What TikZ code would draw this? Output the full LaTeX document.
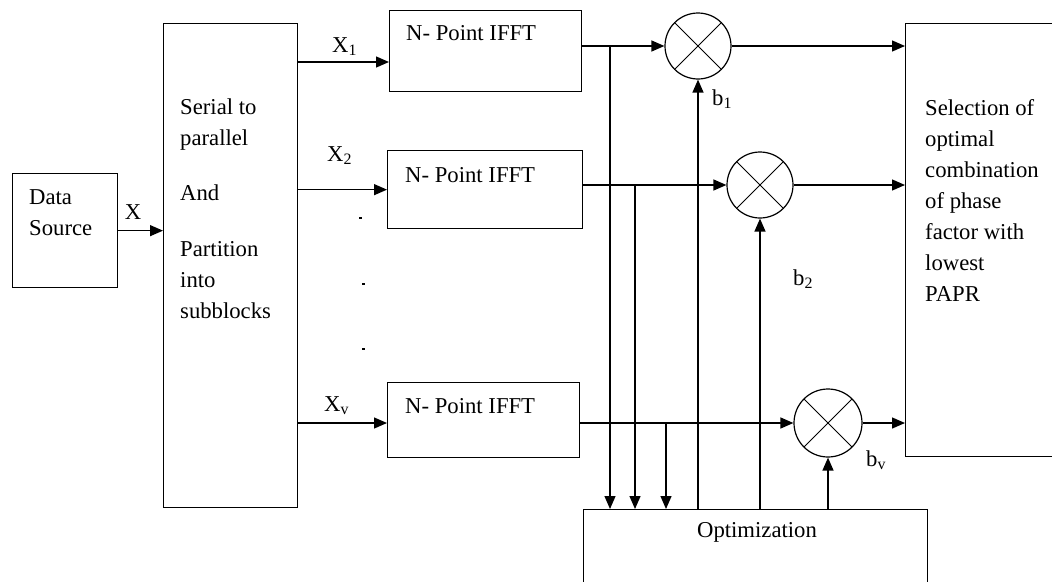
\documentclass[tikz,border=0pt]{standalone}
\usepackage{fontspec}
\setmainfont{Liberation Serif}
\usetikzlibrary{arrows.meta,calc}
\begin{document}
\begin{tikzpicture}[x=1pt,y=-1pt,
  every node/.style={font=\fontsize{22.7}{31}\selectfont, inner sep=0pt},
  box/.style={draw, line width=1.3pt, rectangle, anchor=north west},
  mult/.style={draw, circle, line width=1.2pt, minimum size=66pt,
    path picture={\draw[line width=0.9pt]
      (path picture bounding box.south west) -- (path picture bounding box.north east)
      (path picture bounding box.north west) -- (path picture bounding box.south east);}},
  arr/.style={line width=1.3pt, -{Triangle[length=13pt,width=11pt]}},
  ln/.style={line width=1.3pt},
  txt/.style={anchor=north west, align=left},
  lbl/.style={anchor=base west}]
\useasboundingbox (0,0) rectangle (1052,581);
\clip (0,0) rectangle (1052,581);

% blocks
\node[box, minimum width=105pt, minimum height=114pt] (ds) at (12,173) {};
\node[box, minimum width=134pt, minimum height=484pt] (sp) at (163,23) {};
\node[box, minimum width=192pt, minimum height=81pt] (f1) at (389,10) {};
\node[box, minimum width=195pt, minimum height=78pt] (f2) at (387,150) {};
\node[box, minimum width=192pt, minimum height=75pt] (fv) at (387,382) {};
\node[box, minimum width=200pt, minimum height=433pt] (sel) at (905,23) {};
\node[box, minimum width=344pt, minimum height=120pt] (opt) at (583,509) {};
\node[mult] (c1) at (698,46) {};
\node[mult] (c2) at (760,185) {};
\node[mult, minimum size=68pt] (cv) at (828,423) {};

% texts
\node[txt] (dst) at (29,189) {Data\\Source};
\node[txt] (spt) at (180,99) {Serial to\\parallel\\[24pt]And\\[25pt]Partition\\into\\subblocks};
\node[txt] (f1t) at ($(f1.north west)+(17,15)$) {N- Point IFFT};
\node[txt] (f2t) at ($(f2.north west)+(18,17)$) {N- Point IFFT};
\node[txt] (fvt) at ($(fv.north west)+(18,16)$) {N- Point IFFT};
\node[txt] (selt) at (925,99) {Selection of\\optimal\\combination\\of phase\\factor with\\lowest\\PAPR};
\node (optt) at (757,532) {Optimization};

% labels
\node (lx) at (133,212) {X};
\node[lbl] (lx1) at (332,52) {X\textsubscript{1}};
\node[lbl] (lx2) at (327,161) {X\textsubscript{2}};
\node[lbl] (lxv) at (324,411) {X\textsubscript{v}};
\node[lbl] (lb1) at (712,105) {b\textsubscript{1}};
\node[lbl] (lb2) at (793,285) {b\textsubscript{2}};
\node[lbl] (lbv) at (866,466) {b\textsubscript{v}};

% dots
\fill (359,217) rectangle (362,219);
\fill (362,283) rectangle (365,285);
\fill (362,348) rectangle (365,350);

% coordinates
\coordinate (y1) at (0,62);
\coordinate (yv) at (0,423);
\coordinate (t1) at (610,46);
\coordinate (t2) at (635,185);
\coordinate (t3) at (666,423);

% connectors
\draw[arr] (ds.east) -- (ds.east -| sp.west);
\draw[arr] (sp.east |- y1) -- (f1.west |- y1);
\draw[arr] (sp.east |- f2.west) -- (f2.west);
\draw[arr] (sp.east |- yv) -- (fv.west |- yv);

\draw[arr] (f1.east |- c1.west) -- (c1.west);
\draw[arr] (f2.east |- c2.west) -- (c2.west);
\draw[arr] (fv.east |- cv.west) -- (cv.west);

\draw[arr] (t1) -- (t1 |- opt.north);
\draw[arr] (t2) -- (t2 |- opt.north);
\draw[arr] (t3) -- (t3 |- opt.north);

\draw[arr] (c1.south |- opt.north) -- (c1.south);
\draw[arr] (c2.south |- opt.north) -- (c2.south);
\draw[arr] (cv.south |- opt.north) -- (cv.south);

\draw[arr] (c1.east) -- (c1.east -| sel.west);
\draw[arr] (c2.east) -- (c2.east -| sel.west);
\draw[arr] (cv.east) -- (cv.east -| sel.west);
\end{tikzpicture}
\end{document}
